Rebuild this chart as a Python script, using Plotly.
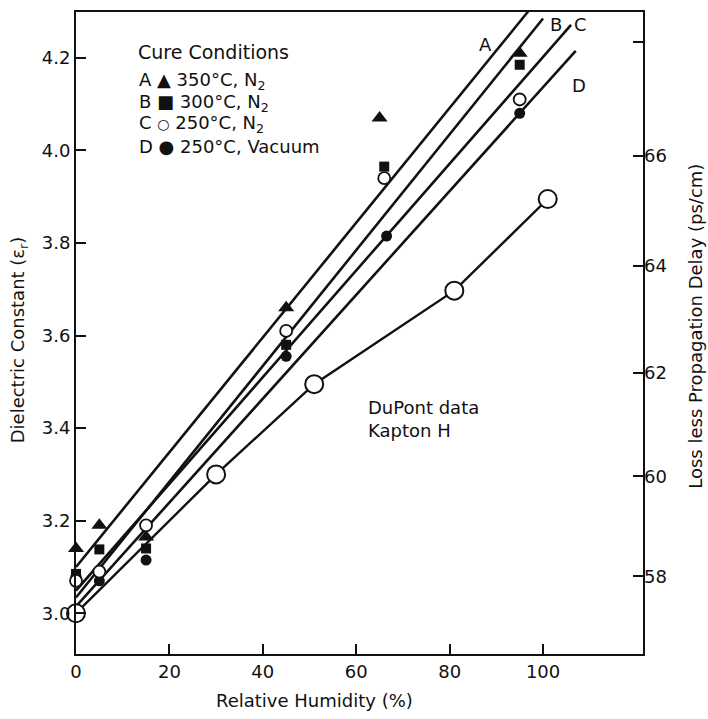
import plotly.graph_objects as go

# Relative humidity (%) at which each cured film was measured
rh_A = [0, 5, 15, 45, 65, 95]
rh_B = [0, 5, 15, 45, 66, 95]
rh_C = [0, 5, 15, 45, 66, 95]
rh_D = [0, 5, 15, 45, 66.5, 95]

# Dielectric constant for each cure condition
eps_A = [3.14, 3.19, 3.165, 3.66, 4.07, 4.21]
eps_B = [3.085, 3.138, 3.14, 3.58, 3.965, 4.185]
eps_C = [3.07, 3.09, 3.19, 3.61, 3.94, 4.11]
eps_D = [3.08, 3.07, 3.115, 3.555, 3.815, 4.08]

# Straight-line fits drawn through each cure series (end points)
fit_x_A = [0, 96.8]
fit_y_A = [3.10, 4.30]
fit_x_B = [0, 100.0]
fit_y_B = [3.034, 4.285]
fit_x_C = [0, 106.0]
fit_y_C = [3.049, 4.271]
fit_x_D = [0, 107.0]
fit_y_D = [3.015, 4.215]

# DuPont reference data, Kapton H
rh_dupont = [0, 30, 51, 81, 101]
eps_dupont = [3.0, 3.3, 3.495, 3.697, 3.895]

# Axis ticks
x_ticks = [0, 20, 40, 60, 80, 100]
eps_ticks = [3.0, 3.2, 3.4, 3.6, 3.8, 4.0, 4.2]
delay_ticks = [58, 60, 62, 64, 66, 68]
delay_labels = ["58", "60", "62", "64", "66", " "]

# Delay (ps/cm) = K * sqrt(eps): place the delay ticks on the eps scale
K = 33.05
delay_pos = [(t / K) ** 2 for t in delay_ticks]

FONT = "DejaVu Sans"
BLACK = "#111111"

fig = go.Figure()

for fx, fy in [(fit_x_A, fit_y_A), (fit_x_B, fit_y_B), (fit_x_C, fit_y_C), (fit_x_D, fit_y_D)]:
    fig.add_trace(go.Scatter(x=fx, y=fy, mode="lines",
                             line=dict(color=BLACK, width=2.6),
                             showlegend=False, hoverinfo="skip", cliponaxis=False))

fig.add_trace(go.Scatter(x=rh_dupont, y=eps_dupont, mode="lines+markers",
                         line=dict(color=BLACK, width=2.4),
                         marker=dict(symbol="circle", size=18, color="white",
                                     line=dict(color=BLACK, width=2)),
                         showlegend=False, cliponaxis=False))

fig.add_trace(go.Scatter(x=rh_A, y=eps_A, mode="markers",
                         marker=dict(symbol="triangle-up", size=14, color=BLACK),
                         showlegend=False, cliponaxis=False))
fig.add_trace(go.Scatter(x=rh_B, y=eps_B, mode="markers",
                         marker=dict(symbol="square", size=10, color=BLACK),
                         showlegend=False, cliponaxis=False))
fig.add_trace(go.Scatter(x=rh_D, y=eps_D, mode="markers",
                         marker=dict(symbol="circle", size=11, color=BLACK),
                         showlegend=False, cliponaxis=False))
fig.add_trace(go.Scatter(x=rh_C, y=eps_C, mode="markers",
                         marker=dict(symbol="circle", size=12, color="white",
                                     line=dict(color=BLACK, width=1.8)),
                         showlegend=False, cliponaxis=False))

# invisible trace so the right-hand axis is drawn
fig.add_trace(go.Scatter(x=[None], y=[None], yaxis="y2", showlegend=False))

x_range = [0, 121.4]
y_range = [2.912, 4.299]

axis_common = dict(showgrid=False, zeroline=False, ticks="inside", ticklen=10,
                   tickwidth=2, tickcolor=BLACK, linecolor=BLACK, linewidth=2,
                   tickfont=dict(family=FONT, size=18, color=BLACK))

fig.update_layout(
    width=708, height=719,
    margin=dict(l=76, r=65, t=10, b=65),
    paper_bgcolor="white", plot_bgcolor="white",
    font=dict(family=FONT, size=18, color=BLACK),
    xaxis=dict(range=x_range, tickvals=x_ticks, showline=True, mirror=True,
               **axis_common),
    yaxis=dict(range=y_range, tickvals=eps_ticks, tickformat=".1f",
               showline=True, mirror=True, **axis_common),
    yaxis2=dict(range=y_range, overlaying="y", side="right",
                tickvals=delay_pos, ticktext=delay_labels, showline=False,
                **axis_common),
)


def ann(text, x, y, xref="paper", yref="paper", size=18, angle=0,
        xanchor="center", yanchor="middle", align="center"):
    fig.add_annotation(text=text, x=x, y=y, xref=xref, yref=yref, showarrow=False,
                       textangle=angle, xanchor=xanchor, yanchor=yanchor, align=align,
                       font=dict(family=FONT, size=size, color=BLACK))


# axis titles
ann("Relative Humidity (%)", 0.42, -0.072)
ann("Dielectric Constant (ε<sub>r</sub>)", -0.099, 0.49, angle=-90)
ann("Loss less Propagation Delay (ps/cm)", 1.092, 0.51, angle=-90)

# cure-condition key
ann("Cure Conditions", 0.106, 4.212, yref="y", xanchor="left", size=19)
key_rows = [
    ("A ▲ 350°C, N<sub>2</sub>", 4.15),
    ("B ■ 300°C, N<sub>2</sub>", 4.103),
    ("C <span style='font-size:14px'>○</span> 250°C, N<sub>2</sub>", 4.056),
    ("D ● 250°C, Vacuum", 4.008),
]
for txt, yv in key_rows:
    ann(txt, 0.108, yv, yref="y", xanchor="left")

# line labels
ann("A", 87.6, 4.228, xref="x", yref="y")
ann("B", 102.8, 4.272, xref="x", yref="y")
ann("C", 108.0, 4.272, xref="x", yref="y")
ann("D", 107.6, 4.14, xref="x", yref="y")

# DuPont label
ann("DuPont data<br>Kapton H", 62.0, 3.42, xref="x", yref="y",
    xanchor="left", align="left")

fig.write_html("out.html")
